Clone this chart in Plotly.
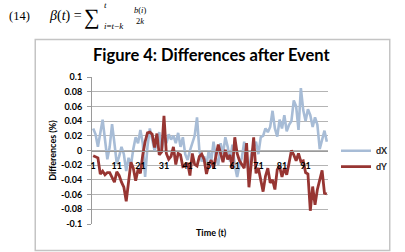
import plotly.graph_objects as go

# ---- data ----
t = list(range(1, 101))
dX = [0.030, 0.022, 0.005, 0.025, 0.042, 0.015, -0.012, 0.005, 0.036, 0.010,
      -0.018, -0.008, 0.005, -0.005, -0.028, -0.010, -0.020, 0.002, 0.018, 0.010,
      0.028, 0.010, -0.036, 0.005, 0.030, 0.015, 0.000, 0.010, 0.025, 0.000,
      0.020, 0.010, 0.022, 0.015, 0.020, 0.010, 0.024, 0.005, 0.018, -0.005,
      -0.013, 0.000, 0.010, 0.020, 0.045, 0.000, -0.015, -0.008, -0.020, 0.000,
      -0.015, 0.012, -0.010, -0.020, 0.010, -0.005, 0.018, 0.005, -0.015, 0.008,
      -0.020, -0.036, -0.020, -0.010, 0.012, -0.015, -0.028, -0.005, 0.005, 0.012,
      -0.005, 0.018, 0.020, 0.030, 0.025, 0.032, 0.054, 0.030, 0.019, 0.042,
      0.030, 0.048, 0.026, 0.035, 0.040, 0.068, 0.060, 0.028, 0.085, 0.055,
      0.040, 0.056, 0.048, 0.032, 0.045, 0.035, 0.002, 0.015, 0.027, 0.012]
dY = [-0.007, -0.009, -0.010, -0.032, -0.028, -0.033, -0.030, -0.030, -0.036, -0.043,
      -0.029, -0.034, -0.043, -0.050, -0.069, -0.042, -0.016, -0.024, -0.041, -0.026,
      -0.031, -0.006, 0.012, 0.024, 0.025, 0.022, 0.004, 0.023, -0.006, -0.002,
      0.047, -0.004, -0.012, -0.008, 0.005, -0.019, -0.004, -0.006, -0.022, -0.021,
      -0.017, -0.034, -0.004, -0.019, -0.021, -0.008, -0.005, -0.012, -0.032, -0.019,
      -0.013, -0.024, -0.010, 0.008, -0.004, -0.016, 0.001, -0.012, -0.006, -0.025,
      0.018, -0.004, -0.014, -0.019, -0.024, 0.010, -0.050, -0.017, 0.018, -0.031,
      -0.024, -0.040, -0.056, -0.035, -0.024, -0.044, -0.040, -0.053, -0.026, -0.022,
      -0.036, -0.024, -0.033, -0.017, 0.000, -0.006, -0.014, -0.004, -0.015, -0.014,
      -0.030, -0.032, -0.082, -0.049, -0.074, -0.053, -0.040, -0.027, -0.058, -0.059]
x_ticks = [1, 11, 21, 31, 41, 51, 61, 71, 81, 91]
y_ticks = [0.1, 0.08, 0.06, 0.04, 0.02, 0, -0.02, -0.04, -0.06, -0.08, -0.1]
y_ticktext = ["0.1", "0.08", "0.06", "0.04", "0.02", "0", "-0.02", "-0.04", "-0.06", "-0.08", "-0.1"]

W, H = 405, 252
L, R, T, B = 92, 329, 77, 224


def px(x, y):
    return (x - L) / (R - L), (B - y) / (B - T)


FONT = "Lato"
fig = go.Figure()
fig.add_trace(go.Scatter(x=t, y=dX, mode="lines", name="dX", legend="legend",
                         line=dict(color="#a7bcd6", width=2.6)))
fig.add_trace(go.Scatter(x=t, y=dY, mode="lines", name="dY", legend="legend2",
                         line=dict(color="#973532", width=2.8)))

LEGFONT = dict(family=FONT, size=9, color="#222222", weight="bold")
lx = px(336, 0)[0]
fig.update_layout(
    width=W, height=H,
    margin=dict(l=L, r=W - R, t=T, b=H - B, pad=0),
    paper_bgcolor="white", plot_bgcolor="white",
    font=dict(family=FONT, size=9, color="#000000"),
    showlegend=True,
    legend=dict(x=lx, y=px(0, 150.7)[1], xanchor="left", yanchor="middle",
                font=LEGFONT, bgcolor="rgba(0,0,0,0)", borderwidth=0),
    legend2=dict(x=lx, y=px(0, 166.7)[1], xanchor="left", yanchor="middle",
                 font=LEGFONT, bgcolor="rgba(0,0,0,0)", borderwidth=0),
)
fig.update_xaxes(range=[0.5, 100.5], anchor="free", position=0.5,
                 showline=True, linecolor="#9a9a9a", linewidth=1,
                 showgrid=False, zeroline=False,
                 tickvals=x_ticks, ticks="", ticklabelstandoff=7,
                 tickfont=dict(family=FONT, size=9, color="#000000", weight="bold"))
fig.update_yaxes(range=[-0.1, 0.1], showline=True, linecolor="#9a9a9a", linewidth=1,
                 showgrid=True, gridcolor="#b4b4b4", gridwidth=1, zeroline=False,
                 tickvals=y_ticks, ticktext=y_ticktext,
                 ticks="outside", ticklen=4, tickcolor="#9a9a9a",
                 ticklabelstandoff=3,
                 tickfont=dict(family=FONT, size=9, color="#000000", weight="bold"))

ann = []


def note(x, y, text, size, family=FONT, anchor="center", angle=0, pad=1):
    xx, yy = px(x, y)
    ann.append(dict(x=xx, y=yy, xref="paper", yref="paper", showarrow=False,
                    xanchor=anchor, yanchor="middle", text=text, textangle=angle,
                    borderpad=pad,
                    font=dict(family=family, size=size, color="#000000")))


# title and axis titles
note(212.5, 55, "<b>Figure 4: Differences after Event</b>", 16.5)
note(212, 232.5, "<b>Time (t)</b>", 9)
note(53, 150.7, "<b>Differences (%)</b>", 9, angle=-90)

# equation above the chart
SERIF = "Liberation Serif"
note(7, 16, "(14)", 12.5, SERIF, "left")
note(47, 16, "<i>β</i>(<i>t</i>) =", 14, SERIF, "left")
note(101, 16.5, "∑", 22, SERIF, "right", pad=0)
note(103, 4.5, "<i>t</i>", 9, SERIF, "left", pad=0)
note(103, 26, "<i>i</i>=<i>t</i>−<i>k</i>", 9, SERIF, "left", pad=0)
note(140, 10, "<i>b</i>(<i>i</i>)", 8.5, SERIF, pad=0)
note(140, 21.5, "2<i>k</i>", 8.5, SERIF, pad=0)

fig.update_layout(annotations=ann)

# chart area border
bx0, by0 = px(35, 39.5)
bx1, by1 = px(391, 250.5)
fig.add_shape(type="rect", xref="paper", yref="paper", x0=bx0, y0=by0, x1=bx1, y1=by1,
              line=dict(color="#c4c4c4", width=1.5), fillcolor="rgba(0,0,0,0)", layer="below")

fig.write_html("out.html")
